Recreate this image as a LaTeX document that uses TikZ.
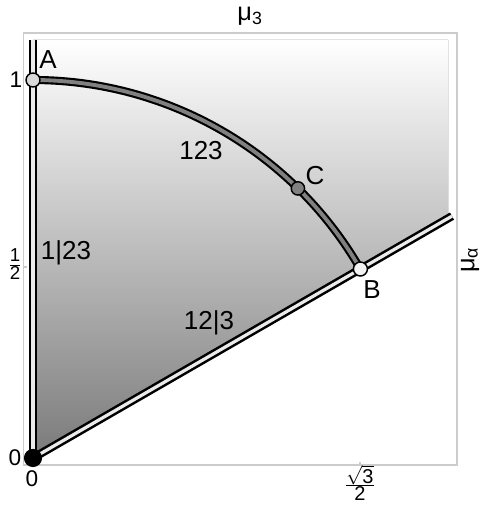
\documentclass[tikz,border=0pt]{standalone}
\usepackage{fontspec}
\setmainfont{Liberation Sans}
\begin{document}
\begin{tikzpicture}[x=0.75pt,y=-0.75pt,
  frame/.style={draw=black!20, line width=0.8pt},
  wall/.style={draw=black, line width=1.9pt, double=black!8, double distance=2.4pt},
  ridge/.style={draw=black, line width=1.6pt, double=black!50, double distance=2.9pt},
  pt/.style={circle, draw=black, line width=1.1pt, inner sep=0pt, minimum size=10.5pt},
  lab/.style={font=\fontsize{19.5}{22}\selectfont, inner sep=0pt},
  ticklab/.style={font=\fontsize{17}{19}\selectfont, inner sep=0pt},
  axlab/.style={font=\fontsize{19}{21}\selectfont, inner sep=0pt},
  fraclab/.style={inner sep=0pt, font=\fontsize{14}{14}\selectfont}]
\useasboundingbox (0,0) rectangle (482,506);
% coordinates
\coordinate (O) at (33,458);
\coordinate (Atop) at (33,40);
\coordinate (A) at (33,80);
\coordinate (B) at (360.4,269);
\coordinate (C) at (297.9,188.4);
\coordinate (Rend) at (452,216.1);
% frame
\draw[frame] (23.5,33) rectangle (457,465);
\draw[frame] (23.5,267) -- (26.5,267);
\draw[frame] (360,465) -- (360,462);
% shaded wedge
\fill[top color=white, bottom color=black!52] (O) -- (Atop) -- (448,40) -- (448,218.4) -- cycle;
% boundaries
\draw[wall] (O) -- (Atop);
\draw[wall] (O) -- (Rend);
\draw[ridge] (A) arc[start angle=90, end angle=30, radius=283.5pt];
% points
\node[pt, fill=black!15] (pA) at (A) {};
\node[pt, fill=black!5] (pB) at (B) {};
\node[pt, fill=black!50, minimum size=10pt] (pC) at (C) {};
\node[pt, fill=black, minimum size=12.5pt] (pO) at (O) {};
% labels
\node[lab] (lA) at (48,60) {A};
\node[lab] (l123) at (201,151) {123};
\node[lab] (lC) at (315,176) {C};
\node[lab] (l1_23) at (66,253) {1|23};
\node[lab] (lB) at (372,290) {B};
\node[lab] (l12_3) at (209,323) {12|3};
% ticks
\node[ticklab] (t1) at (16,80) {1};
\node[ticklab] (t0y) at (15,458) {0};
\node[ticklab] (t0x) at (32,479) {0};
\node[fraclab] (thalf) at (15,267) {\begin{tabular}{@{}c@{}}1\\[-2pt]\hline\rule{0pt}{11pt}2\end{tabular}};
\node[fraclab, font=\fontsize{15}{15}\selectfont] (tsq) at (360,486) {\begin{tabular}{@{}c@{}}$\sqrt{\mbox{3}}$\\[-3pt]\hline\rule{0pt}{11.5pt}2\end{tabular}};
% axis labels
\node[axlab] (mu3) at (250,16) {μ\textsubscript{3}};
\node[axlab, rotate=90] (mua) at (470,260) {μ\textsubscript{α}};
\end{tikzpicture}
\end{document}
